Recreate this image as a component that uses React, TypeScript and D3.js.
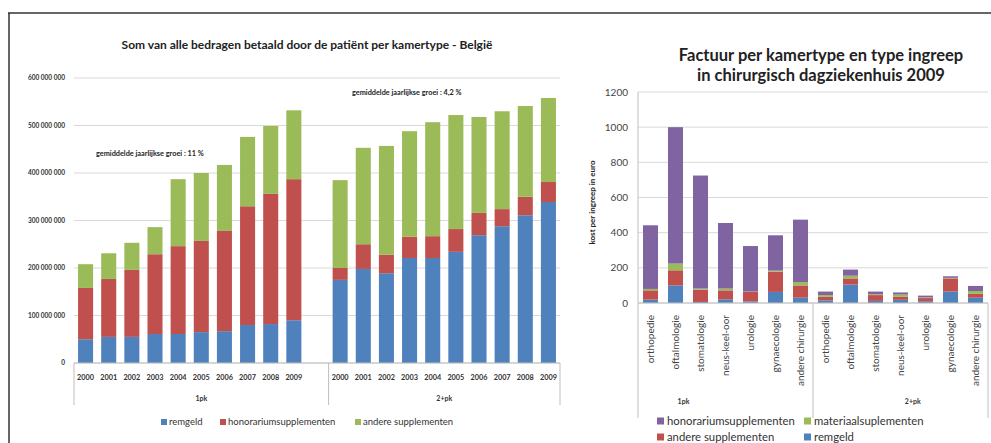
import * as d3 from 'd3'

// ---- left chart: Som van alle bedragen (in miljoen euro) ----
const years = ['2000', '2001', '2002', '2003', '2004', '2005', '2006', '2007', '2008', '2009']
const remgeld1pk = [50, 55, 55, 61, 61, 65, 67, 80, 82, 90]
const honorarium1pk = [108, 122, 141, 168, 185, 192, 211, 250, 274, 297]
const andere1pk = [50, 54, 57, 57, 141, 143, 139, 146, 143, 145]
const remgeld2pk = [175, 198, 189, 221, 221, 234, 269, 288, 311, 339]
const honorarium2pk = [25, 52, 39, 45, 46, 48, 47, 36, 39, 42]
const andere2pk = [185, 203, 229, 222, 240, 240, 202, 206, 191, 177]
const leftTicks = [0, 100e6, 200e6, 300e6, 400e6, 500e6, 600e6]

// ---- right chart: Factuur per kamertype (euro) ----
const ingrepen = ['orthopedie', 'oftalmologie', 'stomatologie', 'neus-keel-oor', 'urologie', 'gynaecologie', 'andere chirurgie']
const rRemgeld1pk = [19, 100, 6, 21, 9, 63, 30]
const rAndere1pk = [53, 86, 70, 51, 54, 115, 70]
const rMateriaal1pk = [8, 38, 6, 10, 2, 6, 19]
const rHonorarium1pk = [362, 776, 643, 373, 259, 201, 355]
const rRemgeld2pk = [15, 105, 12, 18, 10, 65, 30]
const rAndere2pk = [20, 35, 33, 17, 18, 75, 22]
const rMateriaal2pk = [10, 15, 5, 13, 4, 3, 16]
const rHonorarium2pk = [20, 35, 15, 12, 10, 9, 29]
const rightTicks = [0, 200, 400, 600, 800, 1000, 1200]

const BLUE = '#4F81BD'
const RED = '#C0504D'
const GREEN = '#9BBB59'
const PURPLE = '#8064A2'
const GRID = '#D9D9D9'
const FONT = 'Lato, "Open Sans", sans-serif'

type Row = { key: string; [k: string]: number | string }

function LeftChart() {
  const keys = [...years.map((y) => '1pk-' + y), 'gap', ...years.map((y) => '2pk-' + y)]
  const x = d3.scaleBand().domain(keys).range([74, 560]).paddingInner(0.35).paddingOuter(0.175)
  const y = d3.scaleLinear().domain([0, 600e6]).range([363, 78])

  const rows: Row[] = [
    ...years.map((yr, i) => ({ key: '1pk-' + yr, remgeld: remgeld1pk[i] * 1e6, honorarium: honorarium1pk[i] * 1e6, andere: andere1pk[i] * 1e6 })),
    ...years.map((yr, i) => ({ key: '2pk-' + yr, remgeld: remgeld2pk[i] * 1e6, honorarium: honorarium2pk[i] * 1e6, andere: andere2pk[i] * 1e6 })),
  ]
  const series = d3.stack<Row>().keys(['remgeld', 'honorarium', 'andere'])(rows)
  const colors = [BLUE, RED, GREEN]
  const fmt = (v: number) => d3.format(',')(v).replace(/,/g, ' ')
  const [r0, r1] = x.range()
  const sep = (x('gap') ?? 0) + x.bandwidth() + x.step() * 0.175
  const groups = [
    { label: '1pk', x0: r0, x1: sep },
    { label: '2+pk', x0: sep, x1: r1 },
  ]
  const legend = [
    { label: 'remgeld', color: BLUE, x: 161 },
    { label: 'honorariumsupplementen', color: RED, x: 220 },
    { label: 'andere supplementen', color: GREEN, x: 355 },
  ]

  return (
    <g fontFamily={FONT}>
      <text x={307} y={49} textAnchor="middle" fontSize={12} fontWeight="bold" fill="#222">
        Som van alle bedragen betaald door de patiënt per kamertype - België
      </text>
      {leftTicks.map((t) => (
        <g key={t}>
          <line x1={r0} x2={r1} y1={y(t)} y2={y(t)} stroke={GRID} strokeWidth={1} />
          <text x={65} y={y(t)} dy="0.35em" textAnchor="end" fontSize={6.5} fontWeight="bold" fill="#333">
            {fmt(t)}
          </text>
        </g>
      ))}
      {series.map((s, si) =>
        s.map((d) => (
          <rect
            key={s.key + d.data.key}
            x={x(d.data.key as string)}
            y={y(d[1])}
            width={x.bandwidth()}
            height={y(d[0]) - y(d[1])}
            fill={colors[si]}
          />
        ))
      )}
      <line x1={r0} x2={r1} y1={y(0)} y2={y(0)} stroke="#BFBFBF" />
      {[r0, sep, r1].map((lx) => (
        <line key={lx} x1={lx} x2={lx} y1={y(0)} y2={405} stroke="#BFBFBF" />
      ))}
      {rows.map((r) => (
        <text
          key={r.key}
          x={(x(r.key) ?? 0) + x.bandwidth() / 2}
          y={380}
          textAnchor="middle"
          fontSize={7.3}
          fontWeight="bold"
          fill="#333"
        >
          {(r.key as string).split('-')[1]}
        </text>
      ))}
      {groups.map((g) => (
        <text key={g.label} x={(g.x0 + g.x1) / 2} y={401} textAnchor="middle" fontSize={7} fontWeight="bold" fill="#333">
          {g.label}
        </text>
      ))}
      <text x={96} y={156} fontSize={7.3} fontWeight="bold" fill="#222">
        gemiddelde jaarlijkse groei : 11 %
      </text>
      <text x={352} y={95} fontSize={7.3} fontWeight="bold" fill="#222">
        gemiddelde jaarlijkse groei : 4,2 %
      </text>
      {legend.map((l) => (
        <g key={l.label}>
          <rect x={l.x} y={419} width={6} height={6} fill={l.color} />
          <text x={l.x + 8} y={422} dy="0.35em" fontSize={9.5} fill="#333">
            {l.label}
          </text>
        </g>
      ))}
    </g>
  )
}

function RightChart() {
  const keys = [...ingrepen.map((n) => '1pk|' + n), ...ingrepen.map((n) => '2pk|' + n)]
  const x = d3.scaleBand().domain(keys).range([638, 988]).paddingInner(0.4).paddingOuter(0.2)
  const y = d3.scaleLinear().domain([0, 1200]).range([303, 92])

  const rows: Row[] = [
    ...ingrepen.map((n, i) => ({ key: '1pk|' + n, remgeld: rRemgeld1pk[i], andere: rAndere1pk[i], materiaal: rMateriaal1pk[i], honorarium: rHonorarium1pk[i] })),
    ...ingrepen.map((n, i) => ({ key: '2pk|' + n, remgeld: rRemgeld2pk[i], andere: rAndere2pk[i], materiaal: rMateriaal2pk[i], honorarium: rHonorarium2pk[i] })),
  ]
  const series = d3.stack<Row>().keys(['remgeld', 'andere', 'materiaal', 'honorarium'])(rows)
  const colors = [BLUE, RED, GREEN, PURPLE]
  const [r0, r1] = x.range()
  const sep = r0 + x.step() * ingrepen.length
  const legend = [
    { label: 'honorariumsupplementen', color: PURPLE, x: 657, y: 421 },
    { label: 'materiaalsuplementen', color: GREEN, x: 804, y: 421 },
    { label: 'andere supplementen', color: RED, x: 657, y: 437 },
    { label: 'remgeld', color: BLUE, x: 804, y: 437 },
  ]

  return (
    <g fontFamily={FONT}>
      <text x={821} y={61} textAnchor="middle" fontSize={16.5} fontWeight="bold" fill="#222">
        Factuur per kamertype en type ingreep
      </text>
      <text x={821} y={81} textAnchor="middle" fontSize={16.5} fontWeight="bold" fill="#222">
        in chirurgisch dagziekenhuis 2009
      </text>
      {rightTicks.map((t) => (
        <g key={t}>
          <line x1={r0} x2={r1} y1={y(t)} y2={y(t)} stroke={GRID} strokeWidth={1} />
          <text x={628} y={y(t)} dy="0.35em" textAnchor="end" fontSize={10} fill="#444">
            {t}
          </text>
        </g>
      ))}
      <line x1={r0} x2={r0} y1={y(1200)} y2={y(0)} stroke="#BFBFBF" />
      <text
        transform={`translate(595,${(y(0) + y(1200)) / 2 + 5}) rotate(-90)`}
        textAnchor="middle"
        fontSize={8}
        fontWeight="bold"
        fill="#222"
      >
        kost per ingreep in euro
      </text>
      {series.map((s, si) =>
        s.map((d) => (
          <rect
            key={s.key + d.data.key}
            x={x(d.data.key as string)}
            y={y(d[1])}
            width={x.bandwidth()}
            height={y(d[0]) - y(d[1])}
            fill={colors[si]}
          />
        ))
      )}
      <line x1={r0} x2={r1} y1={y(0)} y2={y(0)} stroke="#BFBFBF" />
      {[r0, sep, r1].map((lx) => (
        <line key={lx} x1={lx} x2={lx} y1={y(0)} y2={418} stroke="#BFBFBF" />
      ))}
      {rows.map((r) => (
        <text
          key={r.key}
          transform={`translate(${(x(r.key) ?? 0) + x.bandwidth() / 2 + 3.5},315) rotate(-90)`}
          textAnchor="end"
          fontSize={10}
          fill="#444"
        >
          {(r.key as string).split('|')[1]}
        </text>
      ))}
      <text x={r0 + (sep - r0) * 0.26} y={404} textAnchor="middle" fontSize={7} fontWeight="bold" fill="#333">
        1pk
      </text>
      <text x={sep + (r1 - sep) * 0.57} y={404} textAnchor="middle" fontSize={7} fontWeight="bold" fill="#333">
        2+pk
      </text>
      {legend.map((l) => (
        <g key={l.label}>
          <rect x={l.x} y={l.y - 3.5} width={7} height={7} fill={l.color} />
          <text x={l.x + 10} y={l.y} dy="0.35em" fontSize={11.3} fill="#333">
            {l.label}
          </text>
        </g>
      ))}
    </g>
  )
}

export default function App() {
  return (
    <svg
      width={991}
      height={443}
      style={{ position: 'absolute', left: 0, top: 0, background: '#fff', display: 'block' }}
    >
      <rect width={991} height={443} fill="#fff" />
      <line x1={8} x2={991} y1={13} y2={13} stroke="#333" strokeWidth={1.5} />
      <line x1={9} x2={9} y1={13} y2={443} stroke="#333" strokeWidth={1.5} />
      <LeftChart />
      <RightChart />
    </svg>
  )
}
